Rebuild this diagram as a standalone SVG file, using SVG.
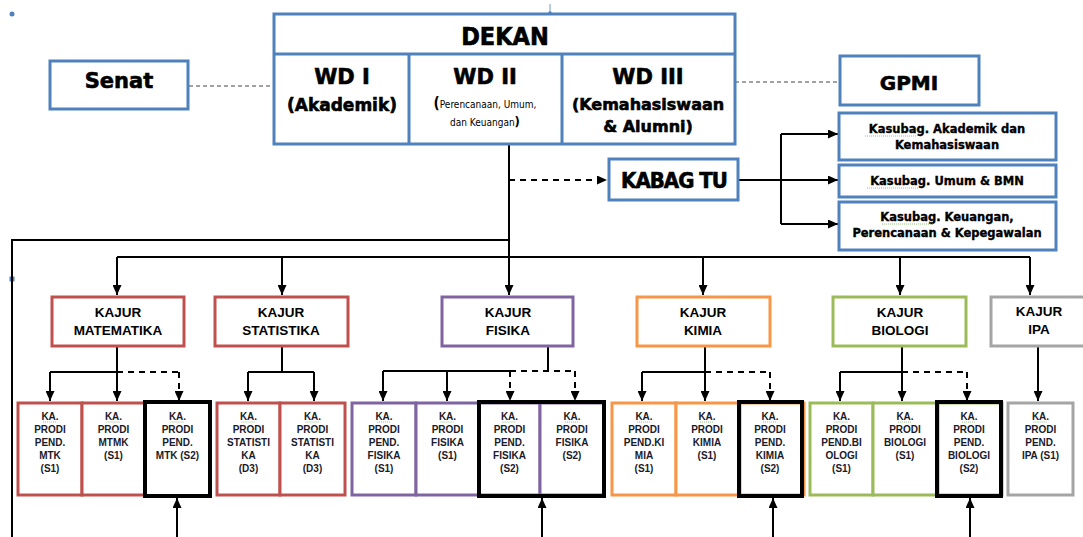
<svg xmlns="http://www.w3.org/2000/svg" width="1083" height="537" viewBox="0 0 1083 537">
<style>
.bg{fill:#ffffff}
.bx{fill:#ffffff;stroke-width:3}
.blue{stroke:#4f81bd}
.red{stroke:#c0504d}
.pur{stroke:#8064a2}
.org{stroke:#f79646}
.grn{stroke:#9bbb59}
.gry{stroke:#a5a5a5}
.blk{fill:none;stroke:#000;stroke-width:4}
.ln{fill:none;stroke:#000;stroke-width:2}
.dl{fill:none;stroke:#000;stroke-width:2;stroke-dasharray:6 5}
.tl{fill:none;stroke:#444;stroke-width:1;stroke-dasharray:4 3}
.ar{marker-end:url(#ah)}
.hd{font-family:'DejaVu Sans Condensed','DejaVu Sans',sans-serif;font-weight:bold;font-stretch:condensed;text-anchor:middle;fill:#000;stroke:#000;stroke-width:0.6}
.hv{font-family:'DejaVu Sans',sans-serif;font-weight:bold;text-anchor:middle;fill:#000;stroke:#000;stroke-width:0.6}
.ks{font-family:'DejaVu Sans',sans-serif;font-weight:bold;text-anchor:middle;fill:#000;stroke:#000;stroke-width:0.35}
.sm{font-family:'DejaVu Sans Condensed','DejaVu Sans',sans-serif;font-stretch:condensed;text-anchor:middle;fill:#000}
.kj{font-family:'Liberation Sans',Arial,sans-serif;font-weight:bold;font-size:13.5px;text-anchor:middle;fill:#000}
.pt{font-family:'Liberation Sans',Arial,sans-serif;font-weight:bold;font-size:10px;text-anchor:middle;fill:#1a1a2a}
.sq{fill:none;stroke:#7ab55c;stroke-width:0.8;stroke-dasharray:1 1}
</style>
<defs>
<marker id="ah" markerUnits="userSpaceOnUse" markerWidth="10" markerHeight="9" refX="10" refY="4.5" orient="auto">
<path d="M0,0 L10,4.5 L0,9 z" fill="#000"/>
</marker>
</defs>
<rect class="bg" x="0" y="0" width="1083" height="537"/>

<g id="handles">
<circle cx="12" cy="14" r="2.5" fill="#4f81bd"/>
<rect x="9.5" y="276.5" width="5" height="5" fill="#4f81bd"/>
<line x1="550" y1="4" x2="550" y2="13" stroke="#4f81bd" stroke-width="0.8"/>
<circle cx="550" cy="13" r="1.8" fill="#4f81bd"/>
</g>

<g id="connectors">
<path class="tl" d="M189,86 H274"/>
<path class="tl" d="M735,82 H840"/>
<path class="ln ar" d="M509,145 V295"/>
<path class="ln" d="M12,537 V240 H509"/>
<path class="dl ar" d="M509,180 H607"/>
<path class="ln" d="M739,180 H781 M781,134 V224"/>
<path class="ln ar" d="M781,134 H838"/>
<path class="ln ar" d="M781,180 H838"/>
<path class="ln ar" d="M781,224 H838"/>
<path class="ln" d="M117,257 H1030"/>
<path class="ln ar" d="M117,257 V295"/>
<path class="ln ar" d="M282,257 V295"/>
<path class="ln ar" d="M703,257 V295"/>
<path class="ln ar" d="M900,257 V295"/>
<path class="ln ar" d="M1030,257 V295"/>
<path class="ln" d="M117,347 V372 M50,372 H117"/>
<path class="dl" d="M117,372 H179"/>
<path class="ln ar" d="M50,372 V401"/>
<path class="ln ar" d="M117,372 V401"/>
<path class="dl ar" d="M179,372 V401"/>
<path class="ln" d="M282,347 V372 M248,372 H314"/>
<path class="ln ar" d="M248,372 V401"/>
<path class="ln ar" d="M314,372 V401"/>
<path class="ln" d="M548,347 V371 M383,371 H510"/>
<path class="dl" d="M510,371 H575"/>
<path class="ln ar" d="M383,371 V401"/>
<path class="ln ar" d="M447,371 V401"/>
<path class="dl ar" d="M510,371 V401"/>
<path class="dl ar" d="M575,371 V401"/>
<path class="ln" d="M705,347 V372 M642,372 H705"/>
<path class="dl" d="M705,372 H770"/>
<path class="ln ar" d="M642,372 V401"/>
<path class="ln ar" d="M705,372 V401"/>
<path class="dl ar" d="M770,372 V401"/>
<path class="ln" d="M902,347 V372 M840,372 H902"/>
<path class="dl" d="M902,372 H967"/>
<path class="ln ar" d="M840,372 V401"/>
<path class="ln ar" d="M902,372 V401"/>
<path class="dl ar" d="M967,372 V401"/>
<path class="ln ar" d="M1038,347 V401"/>
<path class="ln ar" d="M177,537 V498"/>
<path class="ln ar" d="M542,537 V498"/>
<path class="ln ar" d="M773,537 V498"/>
<path class="ln ar" d="M970,537 V498"/>
</g>

<g id="senat">
<rect class="bx blue" x="50" y="61" width="138" height="48"/>
<text class="hv" x="119" y="88" font-size="21">Senat</text>
</g>

<g id="dekan">
<rect class="bx blue" x="274" y="14" width="461" height="130"/>
<line class="blue" x1="274" y1="54" x2="735" y2="54" stroke-width="3"/>
<line class="blue" x1="409" y1="54" x2="409" y2="144" stroke-width="3"/>
<line class="blue" x1="562" y1="54" x2="562" y2="144" stroke-width="3"/>
<text class="hd" x="505" y="45" font-size="25">DEKAN</text>
</g>

<g id="wd1">
<text class="hv" x="342" y="84" font-size="21">WD I</text>
<text class="hv" x="342" y="111" font-size="17">(Akademik)</text>
</g>

<g id="wd2">
<text class="hv" x="485" y="84" font-size="21">WD II</text>
<text class="sm" x="485" y="108" font-size="10"><tspan font-size="15" font-weight="bold">(</tspan>Perencanaan, Umum,</text>
<text class="sm" x="485" y="126" font-size="10">dan Keuangan<tspan font-size="13" font-weight="bold">)</tspan></text>
</g>

<g id="wd3">
<text class="hv" x="648" y="84" font-size="21">WD III</text>
<text class="hv" x="648" y="110" font-size="16">(Kemahasiswaan</text>
<text class="hv" x="648" y="132" font-size="16">&amp; Alumni)</text>
</g>

<g id="gpmi">
<rect class="bx blue" x="840" y="56" width="139" height="49"/>
<text class="hv" x="909" y="90" font-size="20">GPMI</text>
</g>

<g id="kabag-tu">
<rect class="bx blue" x="609" y="159" width="129" height="41"/>
<text class="hd" x="674" y="188" font-size="22" letter-spacing="-1">KABAG TU</text>
</g>

<g id="kasubag-akademik">
<rect class="bx blue" x="839" y="113" width="217" height="47"/>
<text class="ks" x="947" y="133" font-size="11.5">Kasubag. Akademik dan</text>
<text class="ks" x="947" y="149" font-size="11.5">Kemahasiswaan</text>
<path class="sq" d="M865,136 H917"/>
</g>

<g id="kasubag-umum">
<rect class="bx blue" x="839" y="165" width="217" height="32"/>
<text class="ks" x="947" y="185" font-size="11.5">Kasubag. Umum &amp; BMN</text>
<path class="sq" d="M867,188 H919"/>
</g>

<g id="kasubag-keuangan">
<rect class="bx blue" x="839" y="202" width="217" height="48"/>
<text class="ks" x="947" y="221" font-size="11.5">Kasubag. Keuangan,</text>
<text class="ks" x="947" y="237" font-size="11.5">Perencanaan &amp; Kepegawalan</text>
<path class="sq" d="M882,224 H934"/>
</g>

<g id="kajur-matematika">
<rect class="bx red" x="52" y="297" width="132" height="49"/>
<text class="kj" x="118" y="317">KAJUR</text>
<text class="kj" x="118" y="335">MATEMATIKA</text>
</g>
<g id="kajur-statistika">
<rect class="bx red" x="215" y="297" width="133" height="49"/>
<text class="kj" x="281" y="317">KAJUR</text>
<text class="kj" x="281" y="335">STATISTIKA</text>
</g>
<g id="kajur-fisika">
<rect class="bx pur" x="442" y="297" width="131" height="49"/>
<text class="kj" x="508" y="317">KAJUR</text>
<text class="kj" x="508" y="335">FISIKA</text>
</g>
<g id="kajur-kimia">
<rect class="bx org" x="637" y="297" width="133" height="49"/>
<text class="kj" x="703" y="317">KAJUR</text>
<text class="kj" x="703" y="335">KIMIA</text>
</g>
<g id="kajur-biologi">
<rect class="bx grn" x="833" y="297" width="133" height="49"/>
<text class="kj" x="900" y="317">KAJUR</text>
<text class="kj" x="900" y="335">BIOLOGI</text>
</g>
<g id="kajur-ipa">
<rect class="bx gry" x="991" y="297" width="96" height="49"/>
<text class="kj" x="1039" y="316">KAJUR</text>
<text class="kj" x="1039" y="334">IPA</text>
</g>

<g id="prodi-pend-mtk-s1">
<rect class="bx red" x="18" y="403" width="64" height="92"/>
<text class="pt" x="50" y="420">KA.</text><path class="sq" d="M43,422 H57"/>
<text class="pt" x="50" y="433">PRODI</text>
<text class="pt" x="50" y="446">PEND.</text>
<text class="pt" x="50" y="459">MTK</text>
<text class="pt" x="50" y="472">(S1)</text>
</g>
<g id="prodi-mtmk-s1">
<rect class="bx red" x="82" y="403" width="63" height="92"/>
<text class="pt" x="113.5" y="420">KA.</text><path class="sq" d="M106.5,422 H120.5"/>
<text class="pt" x="113.5" y="433">PRODI</text>
<text class="pt" x="113.5" y="446">MTMK</text>
<text class="pt" x="113.5" y="459">(S1)</text>
</g>
<g id="prodi-pend-mtk-s2">
<rect class="blk" x="145" y="402" width="65" height="94"/>
<text class="pt" x="177.5" y="420">KA.</text><path class="sq" d="M170.5,422 H184.5"/>
<text class="pt" x="177.5" y="433">PRODI</text>
<text class="pt" x="177.5" y="446">PEND.</text>
<text class="pt" x="177.5" y="459">MTK (S2)</text>
</g>
<g id="prodi-statistika-d3-a">
<rect class="bx red" x="217" y="403" width="63" height="92"/>
<text class="pt" x="248.5" y="420">KA.</text><path class="sq" d="M241.5,422 H255.5"/>
<text class="pt" x="248.5" y="433">PRODI</text>
<text class="pt" x="248.5" y="446">STATISTI</text>
<text class="pt" x="248.5" y="459">KA</text>
<text class="pt" x="248.5" y="472">(D3)</text>
</g>
<g id="prodi-statistika-d3-b">
<rect class="bx red" x="280" y="403" width="65" height="92"/>
<text class="pt" x="312.5" y="420">KA.</text><path class="sq" d="M305.5,422 H319.5"/>
<text class="pt" x="312.5" y="433">PRODI</text>
<text class="pt" x="312.5" y="446">STATISTI</text>
<text class="pt" x="312.5" y="459">KA</text>
<text class="pt" x="312.5" y="472">(D3)</text>
</g>
<g id="prodi-pend-fisika-s1">
<rect class="bx pur" x="352" y="403" width="64" height="92"/>
<text class="pt" x="384" y="420">KA.</text><path class="sq" d="M377,422 H391"/>
<text class="pt" x="384" y="433">PRODI</text>
<text class="pt" x="384" y="446">PEND.</text>
<text class="pt" x="384" y="459">FISIKA</text>
<text class="pt" x="384" y="472">(S1)</text>
</g>
<g id="prodi-fisika-s1">
<rect class="bx pur" x="416" y="403" width="63" height="92"/>
<text class="pt" x="447.5" y="420">KA.</text><path class="sq" d="M440.5,422 H454.5"/>
<text class="pt" x="447.5" y="433">PRODI</text>
<text class="pt" x="447.5" y="446">FISIKA</text>
<text class="pt" x="447.5" y="459">(S1)</text>
</g>
<g id="prodi-pend-fisika-s2">
<rect class="bx pur" x="479" y="403" width="61" height="92"/>
<text class="pt" x="509.5" y="420">KA.</text><path class="sq" d="M502.5,422 H516.5"/>
<text class="pt" x="509.5" y="433">PRODI</text>
<text class="pt" x="509.5" y="446">PEND.</text>
<text class="pt" x="509.5" y="459">FISIKA</text>
<text class="pt" x="509.5" y="472">(S2)</text>
</g>
<g id="prodi-fisika-s2">
<rect class="bx pur" x="540" y="403" width="64" height="92"/>
<text class="pt" x="572" y="420">KA.</text><path class="sq" d="M565,422 H579"/>
<text class="pt" x="572" y="433">PRODI</text>
<text class="pt" x="572" y="446">FISIKA</text>
<text class="pt" x="572" y="459">(S2)</text>
</g>
<rect id="fisika-s2-frame" class="blk" x="479" y="402" width="125" height="94"/>
<g id="prodi-pend-kimia-s1">
<rect class="bx org" x="612" y="403" width="64" height="92"/>
<text class="pt" x="644" y="420">KA.</text><path class="sq" d="M637,422 H651"/>
<text class="pt" x="644" y="433">PRODI</text>
<text class="pt" x="644" y="446">PEND.KI</text>
<text class="pt" x="644" y="459">MIA</text>
<text class="pt" x="644" y="472">(S1)</text>
</g>
<g id="prodi-kimia-s1">
<rect class="bx org" x="676" y="403" width="63" height="92"/>
<text class="pt" x="707" y="420">KA.</text><path class="sq" d="M700,422 H714"/>
<text class="pt" x="707" y="433">PRODI</text>
<text class="pt" x="707" y="446">KIMIA</text>
<text class="pt" x="707" y="459">(S1)</text>
</g>
<g id="prodi-pend-kimia-s2">
<rect class="bx org" x="740" y="403" width="64" height="92"/>
<rect class="blk" x="739" y="402" width="63" height="94"/>
<text class="pt" x="770" y="420">KA.</text><path class="sq" d="M763,422 H777"/>
<text class="pt" x="770" y="433">PRODI</text>
<text class="pt" x="770" y="446">PEND.</text>
<text class="pt" x="770" y="459">KIMIA</text>
<text class="pt" x="770" y="472">(S2)</text>
</g>
<g id="prodi-pend-biologi-s1">
<rect class="bx grn" x="810" y="403" width="63" height="92"/>
<text class="pt" x="841.5" y="420">KA.</text><path class="sq" d="M834.5,422 H848.5"/>
<text class="pt" x="841.5" y="433">PRODI</text>
<text class="pt" x="841.5" y="446">PEND.BI</text>
<text class="pt" x="841.5" y="459">OLOGI</text>
<text class="pt" x="841.5" y="472">(S1)</text>
</g>
<g id="prodi-biologi-s1">
<rect class="bx grn" x="873" y="403" width="64" height="92"/>
<text class="pt" x="905" y="420">KA.</text><path class="sq" d="M898,422 H912"/>
<text class="pt" x="905" y="433">PRODI</text>
<text class="pt" x="905" y="446">BIOLOGI</text>
<text class="pt" x="905" y="459">(S1)</text>
</g>
<g id="prodi-pend-biologi-s2">
<rect class="bx grn" x="938" y="403" width="64" height="92"/>
<rect class="blk" x="937" y="402" width="64" height="94"/>
<text class="pt" x="969" y="420">KA.</text><path class="sq" d="M962,422 H976"/>
<text class="pt" x="969" y="433">PRODI</text>
<text class="pt" x="969" y="446">PEND.</text>
<text class="pt" x="969" y="459">BIOLOGI</text>
<text class="pt" x="969" y="472">(S2)</text>
</g>
<g id="prodi-pend-ipa-s1">
<rect class="bx gry" x="1008" y="403" width="65" height="92"/>
<text class="pt" x="1040.5" y="420">KA.</text><path class="sq" d="M1033.5,422 H1047.5"/>
<text class="pt" x="1040.5" y="433">PRODI</text>
<text class="pt" x="1040.5" y="446">PEND.</text>
<text class="pt" x="1040.5" y="459">IPA (S1)</text>
</g>
</svg>
